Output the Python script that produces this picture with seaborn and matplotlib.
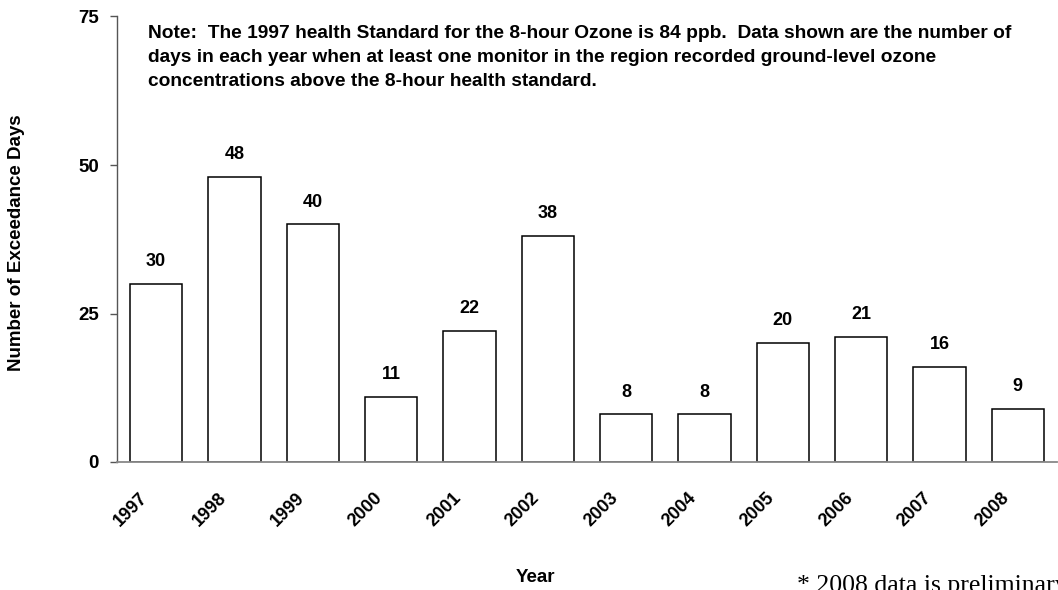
import matplotlib
matplotlib.use("Agg")
import matplotlib.pyplot as plt
import matplotlib.transforms as mtrans
import pandas as pd
import seaborn as sns

### DATA ###

YEARS = ["1997", "1998", "1999", "2000", "2001", "2002",
         "2003", "2004", "2005", "2006", "2007", "2008"]
EXCEEDANCE_DAYS = [30, 48, 40, 11, 22, 38, 8, 8, 20, 21, 16, 9]
Y_TICKS = [0, 25, 50, 75]

NOTE = ("Note:  The 1997 health Standard for the 8-hour Ozone is 84 ppb.  Data shown are the number of\n"
        "days in each year when at least one monitor in the region recorded ground-level ozone\n"
        "concentrations above the 8-hour health standard.")
FOOTNOTE = "* 2008 data is preliminary"

### PLOT ###

sns.set_style("white")
plt.rcParams["font.family"] = ["Liberation Sans", "DejaVu Sans"]
plt.rcParams["text.color"] = "black"
plt.rcParams["xtick.color"] = "black"
plt.rcParams["ytick.color"] = "black"

df = pd.DataFrame({"Year": YEARS, "Days": EXCEEDANCE_DAYS})

W, H = 1058, 590
fig = plt.figure(figsize=(W / 100, H / 100), dpi=100)
ax = fig.add_axes([117 / W, 1 - 462 / H, 940 / W, (462 - 16.5) / H])

sns.barplot(data=df, x="Year", y="Days", color="white", edgecolor="black",
            linewidth=1.1, width=0.665, ax=ax)

for i, v in enumerate(EXCEEDANCE_DAYS):
    ax.annotate(str(v), (i, v), xytext=(0, 10), textcoords="offset points",
                ha="center", va="bottom", fontsize=13, fontweight="bold")

ax.set_xlim(-0.5, len(YEARS) - 0.5)
ax.set_ylim(0, 75)
ax.set_yticks(Y_TICKS)
ax.tick_params(axis="y", direction="out", length=5, width=1, color="#555555",
               labelsize=13.5, pad=8, left=True)
ax.tick_params(axis="x", length=0, labelsize=13, pad=24)
for lab in ax.get_yticklabels():
    lab.set_fontweight("bold")
shift = mtrans.ScaledTranslation(-11 / 100, 0, fig.dpi_scale_trans)
for lab in ax.get_xticklabels():
    lab.set_fontweight("bold")
    lab.set_rotation(45)
    lab.set_ha("right")
    lab.set_va("center")
    lab.set_rotation_mode("anchor")
    lab.set_transform(lab.get_transform() + shift)

for side in ["top", "right"]:
    ax.spines[side].set_visible(False)
ax.spines["left"].set_color("#555555")
ax.spines["bottom"].set_color("#888888")
ax.spines["left"].set_linewidth(1)
ax.spines["bottom"].set_linewidth(1.3)

ax.set_xlabel("")
ax.set_ylabel("")
fig.text(17 / W, 1 - 243 / H, "Number of Exceedance Days", rotation=90,
         ha="center", va="center", fontsize=13.5, fontweight="bold")
fig.text(535 / W, 1 - 577 / H, "Year", ha="center", va="center",
         fontsize=13.5, fontweight="bold")

fig.text(148 / W, 1 - 24.5 / H, NOTE, ha="left", va="top", fontsize=13.8,
         fontweight="bold", linespacing=1.57)

fig.text(797 / W, 1 - 592 / H, FOOTNOTE, ha="left", va="baseline",
         fontsize=18.5, family=["Liberation Serif", "DejaVu Serif"])

fig.savefig("out.png", dpi=100)
